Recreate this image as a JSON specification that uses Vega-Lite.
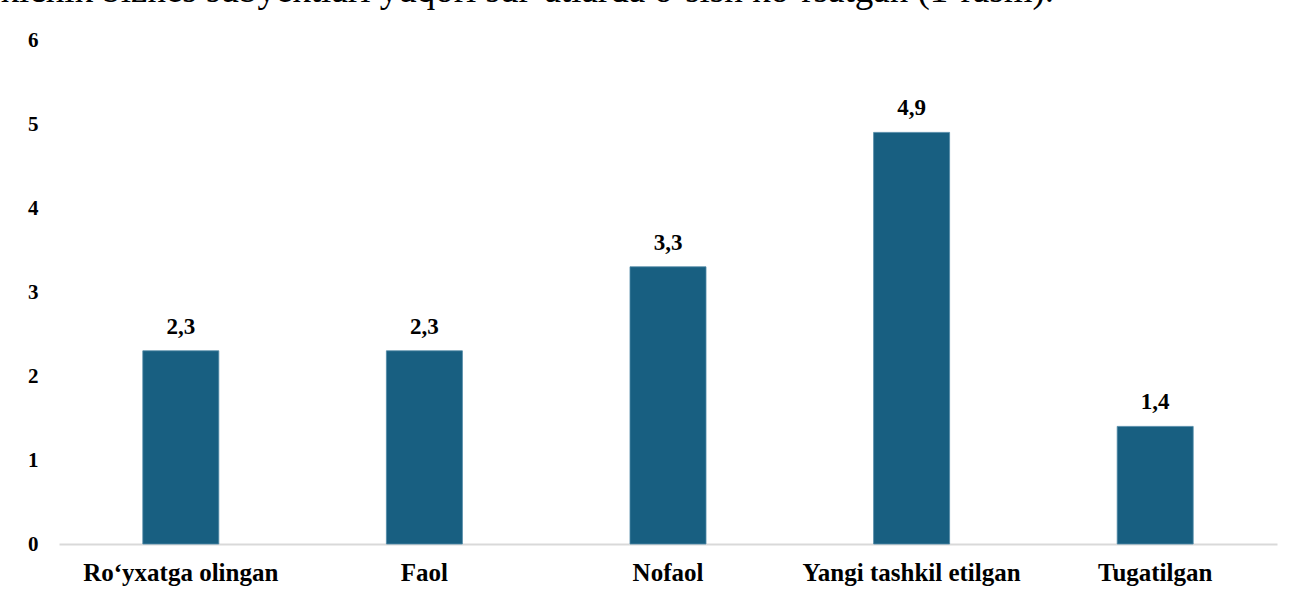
{
  "$schema": "https://vega.github.io/schema/vega-lite/v6.json",
  "autosize": "none",
  "width": 1218,
  "height": 504,
  "padding": {"left": 59, "top": 40, "right": 29, "bottom": 52},
  "background": "white",
  "title": {
    "text": "kichik biznes subyektlari yuqori sur’atlarda o‘sish ko‘rsatgan (1-rasm).",
    "anchor": "start",
    "font": "Liberation Serif, Times New Roman, serif",
    "fontSize": 37,
    "fontWeight": "normal",
    "color": "#000000",
    "baseline": "alphabetic",
    "offset": 0,
    "dx": -27,
    "dy": 10
  },
  "config": {
    "view": {"stroke": null},
    "locale": {"number": {"decimal": ",", "thousands": " ", "grouping": [3], "currency": ["", ""]}}
  },
  "data": {
    "values": [
      {"category": "Ro‘yxatga olingan", "value": 2.3},
      {"category": "Faol", "value": 2.3},
      {"category": "Nofaol", "value": 3.3},
      {"category": "Yangi tashkil etilgan", "value": 4.9},
      {"category": "Tugatilgan", "value": 1.4}
    ]
  },
  "encoding": {
    "x": {
      "field": "category",
      "type": "nominal",
      "sort": null,
      "scale": {"paddingInner": 0.688, "paddingOuter": 0.344},
      "axis": {
        "title": null,
        "labelAngle": 0,
        "labelLimit": 0,
        "labelFont": "Liberation Serif, Times New Roman, serif",
        "labelFontSize": 25,
        "labelFontWeight": "bold",
        "labelColor": "#000000",
        "labelBaseline": "alphabetic",
        "labelPadding": 36,
        "ticks": false,
        "tickSize": 0,
        "domainColor": "#d9d9d9",
        "domainWidth": 2,
        "grid": false
      }
    },
    "y": {
      "field": "value",
      "type": "quantitative",
      "scale": {"domain": [0, 6], "nice": false},
      "axis": {
        "title": null,
        "values": [0, 1, 2, 3, 4, 5, 6],
        "format": "d",
        "labelFont": "Liberation Serif, Times New Roman, serif",
        "labelFontSize": 21,
        "labelFontWeight": "bold",
        "labelColor": "#000000",
        "labelPadding": 21,
        "ticks": false,
        "tickSize": 0,
        "domain": false,
        "grid": false
      }
    }
  },
  "layer": [
    {
      "mark": {"type": "bar", "color": "#185f81", "stroke": "#4f89a6", "strokeWidth": 0.8}
    },
    {
      "mark": {
        "type": "text",
        "font": "Liberation Serif, Times New Roman, serif",
        "fontSize": 23,
        "fontWeight": "bold",
        "color": "#000000",
        "baseline": "alphabetic",
        "dy": -17
      },
      "encoding": {
        "text": {"field": "value", "type": "quantitative", "format": ".1f"}
      }
    }
  ]
}
